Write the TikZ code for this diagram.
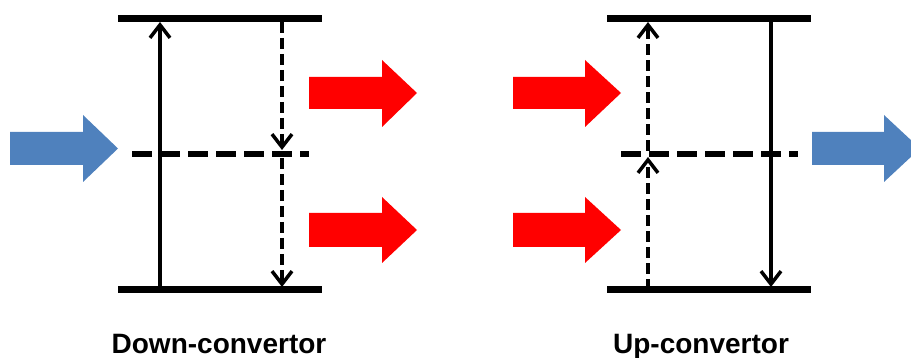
\documentclass[tikz,border=0pt]{standalone}
\usepackage{fontspec}
\setmainfont{Liberation Sans}
\usetikzlibrary{arrows.meta}
\definecolor{bluearr}{HTML}{4F81BD}
\definecolor{redarr}{HTML}{FF0000}
\tikzset{
  level/.style={line width=7pt},
  midlevel/.style={line width=6.5pt, dash pattern=on 20pt off 8pt},
  trans/.style={line width=3.5pt, -{Straight Barb[length=13pt,width=20pt,line width=3.5pt]}},
  dtrans/.style={trans, dash pattern=on 11pt off 5pt},
  lbl/.style={font=\bfseries\fontsize{28}{31}\selectfont, anchor=base, inner sep=0pt}
}
\begin{document}
\begin{tikzpicture}[x=1pt,y=-1pt]
\useasboundingbox (0,0) rectangle (911,358);
\clip (0,0) rectangle (911,358);
% ---------- Down-convertor ----------
\coordinate (dTL) at (118,18.5); \coordinate (dTR) at (322,18.5);
\coordinate (dBL) at (118,290);  \coordinate (dBR) at (322,290);
\coordinate (dML) at (132,154);  \coordinate (dMR) at (309,154);
\draw[level] (dTL) -- (dTR);
\draw[level] (dBL) -- (dBR);
\draw[midlevel] (dML) -- (dMR);
\coordinate (dS0) at (160,290); \coordinate (dS1) at (160,22);
\draw[trans] (dS0) -- (dS1);
\coordinate (dD0) at (282,22); \coordinate (dD1) at (282,150);
\coordinate (dD2) at (282,158); \coordinate (dD3) at (282,287);
\draw[dtrans] (dD0) -- (dD1);
\draw[dtrans] (dD2) -- (dD3);
% blue input
\fill[bluearr] (10,132) -- (83,132) -- (83,115) -- (118,148.5) -- (83,182) -- (83,165) -- (10,165) -- cycle;
% red outputs
\fill[redarr] (309,77) -- (382,77) -- (382,60) -- (417,93) -- (382,127) -- (382,109) -- (309,109) -- cycle;
\fill[redarr] (309,213) -- (382,213) -- (382,197) -- (417,230) -- (382,263) -- (382,247) -- (309,247) -- cycle;
\node[lbl] (down) at (219,353) {Down-convertor};
% ---------- Up-convertor ----------
\coordinate (uTL) at (607,18.5); \coordinate (uTR) at (811,18.5);
\coordinate (uBL) at (607,290);  \coordinate (uBR) at (811,290);
\coordinate (uML) at (621,154);  \coordinate (uMR) at (798,154);
\draw[level] (uTL) -- (uTR);
\draw[level] (uBL) -- (uBR);
\draw[midlevel] (uML) -- (uMR);
\coordinate (uD0) at (648,290); \coordinate (uD1) at (648,157);
\coordinate (uD2) at (648,151); \coordinate (uD3) at (648,22);
\draw[dtrans] (uD0) -- (uD1);
\draw[dtrans] (uD2) -- (uD3);
\coordinate (uS0) at (771,22); \coordinate (uS1) at (771,287);
\draw[trans] (uS0) -- (uS1);
% red inputs
\fill[redarr] (513,77) -- (585,77) -- (585,60) -- (621,93) -- (585,127) -- (585,109) -- (513,109) -- cycle;
\fill[redarr] (513,213) -- (585,213) -- (585,197) -- (621,230) -- (585,263) -- (585,247) -- (513,247) -- cycle;
% blue output
\fill[bluearr] (812,132) -- (884,132) -- (884,115) -- (920,148.5) -- (884,182) -- (884,165) -- (812,165) -- cycle;
\node[lbl] (up) at (701,353) {Up-convertor};
\end{tikzpicture}
\end{document}
